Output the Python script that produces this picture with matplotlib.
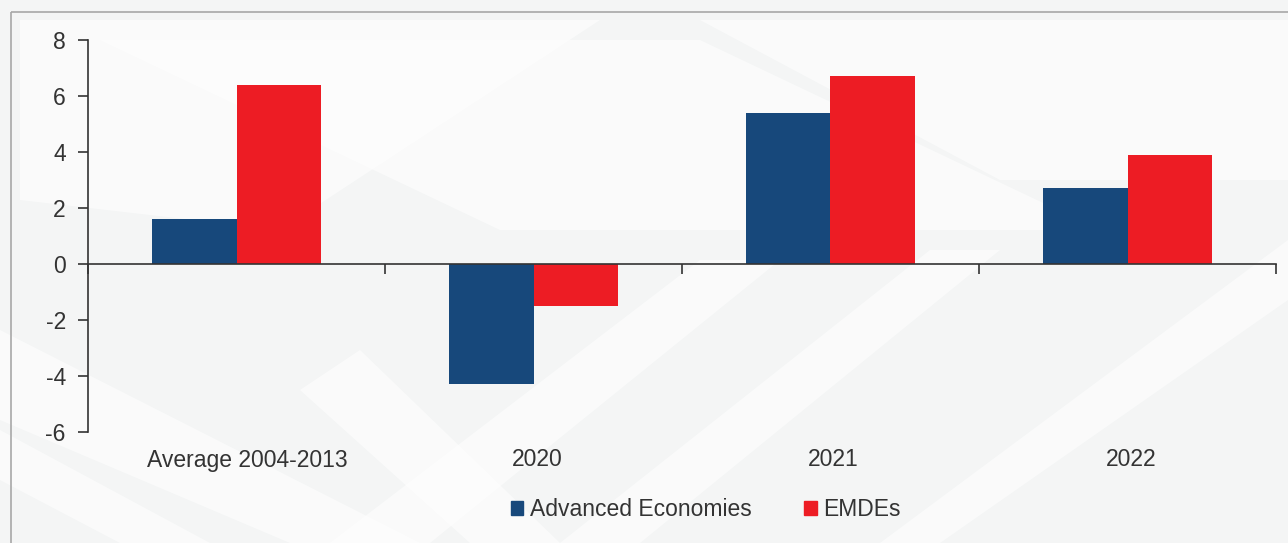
import matplotlib
matplotlib.use("Agg")
import matplotlib.pyplot as plt
import matplotlib.patches as mpatches
import matplotlib.transforms as mtransforms
import numpy as np

plt.rcParams['font.family'] = ['Liberation Sans', 'DejaVu Sans']

categories = ["Average 2004-2013", "2020", "2021", "2022"]
advanced = [1.6, -4.3, 5.4, 2.7]
emdes = [6.4, -1.5, 6.7, 3.9]
series_names = ["Advanced Economies", "EMDEs"]
yticks = [8, 6, 4, 2, 0, -2, -4, -6]

BLUE = "#17487b"
RED = "#ed1c24"
TEXT = "#333333"
FS = 16.5

fig = plt.figure(figsize=(12.88, 5.43), dpi=100)
fig.patch.set_facecolor("#f4f5f5")

# background layer: soft diagonal white bands plus the frame line
bg = fig.add_axes([0, 0, 1, 1], zorder=-10)
bg.set_xlim(0, 1288)
bg.set_ylim(543, 0)
bg.axis("off")
bands = [
    [(0, 330), (0, 420), (290, 543), (420, 543)],
    [(0, 430), (0, 480), (120, 543), (210, 543)],
    [(330, 543), (430, 543), (780, 260), (700, 260)],
    [(560, 543), (640, 543), (1000, 250), (930, 250)],
    [(300, 390), (360, 350), (560, 543), (470, 543)],
    [(880, 543), (940, 543), (1288, 300), (1288, 240)],
    [(100, 40), (700, 40), (1100, 230), (500, 230)],
    [(700, 20), (1288, 20), (1288, 180), (1000, 180)],
    [(20, 20), (600, 20), (280, 230), (20, 200)],
]
for b in bands:
    bg.add_patch(mpatches.Polygon(b, closed=True, facecolor="white",
                                  edgecolor="none", alpha=0.55))
bg.add_patch(mpatches.Rectangle((11, 12), 1400, 600, fill=False,
                                edgecolor="#a8a8a8", lw=1.2))

ax = fig.add_axes([88 / 1288, 1 - 432 / 543, (1276 - 88) / 1288, (432 - 40) / 543])
ax.set_facecolor("none")

x = np.arange(len(categories))
w = 0.286
ax.bar(x - w / 2, advanced, width=w, color=BLUE, edgecolor="none", zorder=3)
ax.bar(x + w / 2, emdes, width=w, color=RED, edgecolor="none", zorder=3)

ax.set_xlim(-0.5, len(categories) - 0.5)
ax.set_ylim(-6, 8)
ax.set_yticks(yticks)
ax.set_yticklabels([str(t) for t in yticks])
ax.tick_params(axis='y', direction='out', length=7, width=1.2, color="#333333",
               labelsize=FS, labelcolor=TEXT, pad=9)

for s in ["top", "right"]:
    ax.spines[s].set_visible(False)
ax.spines["left"].set_color("#333333")
ax.spines["left"].set_linewidth(1.2)
ax.spines["bottom"].set_position(("data", 0))
ax.spines["bottom"].set_color("#333333")
ax.spines["bottom"].set_linewidth(1.2)
ax.spines["bottom"].set_zorder(4)

ax.set_xticks(np.arange(len(categories) + 1) - 0.5)
ax.set_xticklabels([])
ax.tick_params(axis='x', direction='out', length=7, width=1.2, color="#333333")

# category names sit below the plot area, not on the zero line
label_shift_px = [11, 4, 3, 4]
for i, c in enumerate(categories):
    tr = ax.get_xaxis_transform() + mtransforms.ScaledTranslation(
        label_shift_px[i] / 100, 0, fig.dpi_scale_trans)
    ax.text(i, -28 / 392, c, transform=tr, ha="center", va="center",
            fontsize=FS, color=TEXT)

handles = [mpatches.Patch(color=BLUE, label=series_names[0]),
           mpatches.Patch(color=RED, label=series_names[1])]
fig.legend(handles=handles, loc="center", bbox_to_anchor=(706 / 1288, 1 - 510 / 543),
           ncol=2, frameon=False, fontsize=FS, handlelength=0.55, handleheight=0.55,
           handletextpad=0.3, columnspacing=2.27, labelcolor=TEXT)

fig.savefig("out.png", dpi=100, facecolor=fig.get_facecolor())
